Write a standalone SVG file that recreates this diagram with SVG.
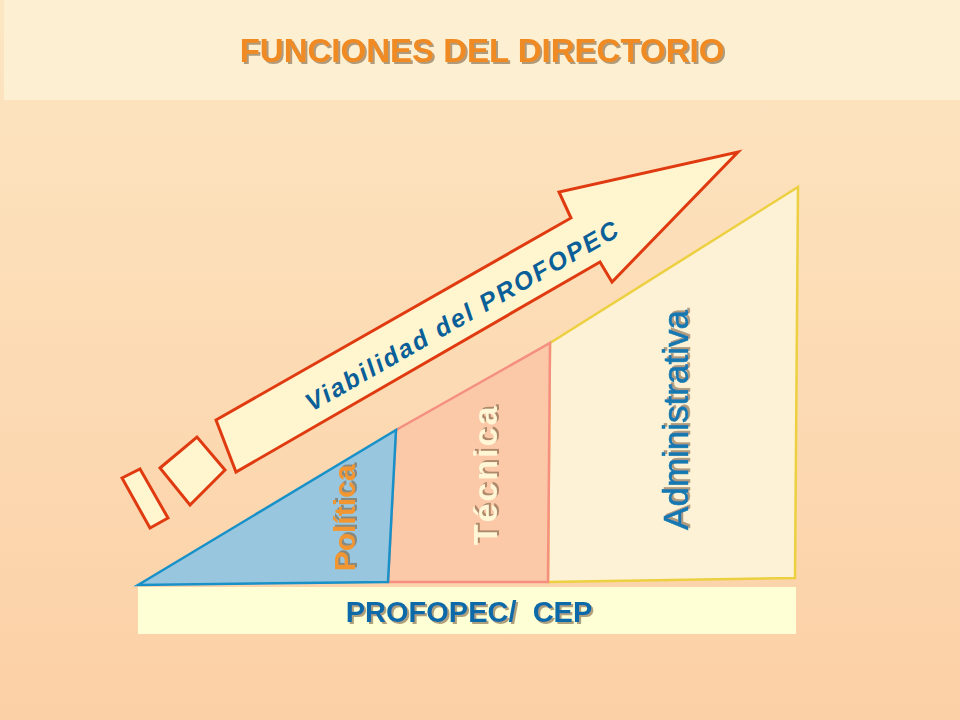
<svg xmlns="http://www.w3.org/2000/svg" width="960" height="720" viewBox="0 0 960 720">
<defs>
<linearGradient id="bg" x1="0" y1="0" x2="0" y2="1"><stop offset="0" stop-color="#fce6c2"/><stop offset="1" stop-color="#fcd0a6"/></linearGradient>
<filter id="sh" x="-10%" y="-10%" width="130%" height="130%"><feDropShadow dx="2" dy="2" stdDeviation="0.6" flood-color="#7a6040" flood-opacity="0.6"/></filter>
</defs>
<style>
text{font-family:"Liberation Sans",Arial,sans-serif;font-weight:bold;text-anchor:middle}
.red{fill:#fff6d0;stroke:#e03a10;stroke-width:3}
</style>
<rect width="960" height="720" fill="url(#bg)"/>
<rect x="4" y="0" width="956" height="100" fill="#fdf0d2"/>
<text x="482" y="62" font-size="33" fill="#f08a20" filter="url(#sh)">FUNCIONES DEL DIRECTORIO</text>
<g id="arrow">
<polygon class="red" points="216,420 571,218 559,192 738,152 612,282 600,262 236,472"/>
<text transform="translate(463,316) rotate(-29.8)" font-size="25" font-style="italic" fill="#0a5f98" letter-spacing="2.2" dy="8">Viabilidad del PROFOPEC</text>
</g>
<g id="blocks">
<polygon class="red" points="122,478 140,469 168,518 150,528"/>
<polygon class="red" points="160,468 197,437 225,470 190,505"/>
</g>
<g id="administrativa">
<polygon points="550,343 798,187 795,578 548,582" fill="#fdf2d6" stroke="#ecd040" stroke-width="2.5"/>
<text transform="translate(676,420) rotate(-90)" font-size="35" style="font-weight:normal" fill="#1478b0" stroke="#1478b0" stroke-width="0.6" filter="url(#sh)" dy="12">Administrativa</text>
</g>
<g id="tecnica">
<polygon points="396,430 550,343 548,582 388,582" fill="#fbc8a8" stroke="#f59080" stroke-width="2.5"/>
<text transform="translate(485,475) rotate(-90)" font-size="34" fill="#fff6d6" filter="url(#sh)" dy="12" letter-spacing="2">Técnica</text>
</g>
<g id="politica">
<polygon points="138,585 396,430 388,582" fill="#98c6de" stroke="#1890c8" stroke-width="2.5"/>
<text transform="translate(345,518) rotate(-90)" font-size="30" fill="#f29632" filter="url(#sh)" dy="10">Política</text>
</g>
<g id="base">
<rect x="138" y="587" width="658" height="47" fill="#ffffd6"/>
<text x="469" y="622" font-size="29" fill="#0a6aa8" filter="url(#sh)" xml:space="preserve">PROFOPEC/  CEP</text>
</g>
<g id="connectors"/>
</svg>
